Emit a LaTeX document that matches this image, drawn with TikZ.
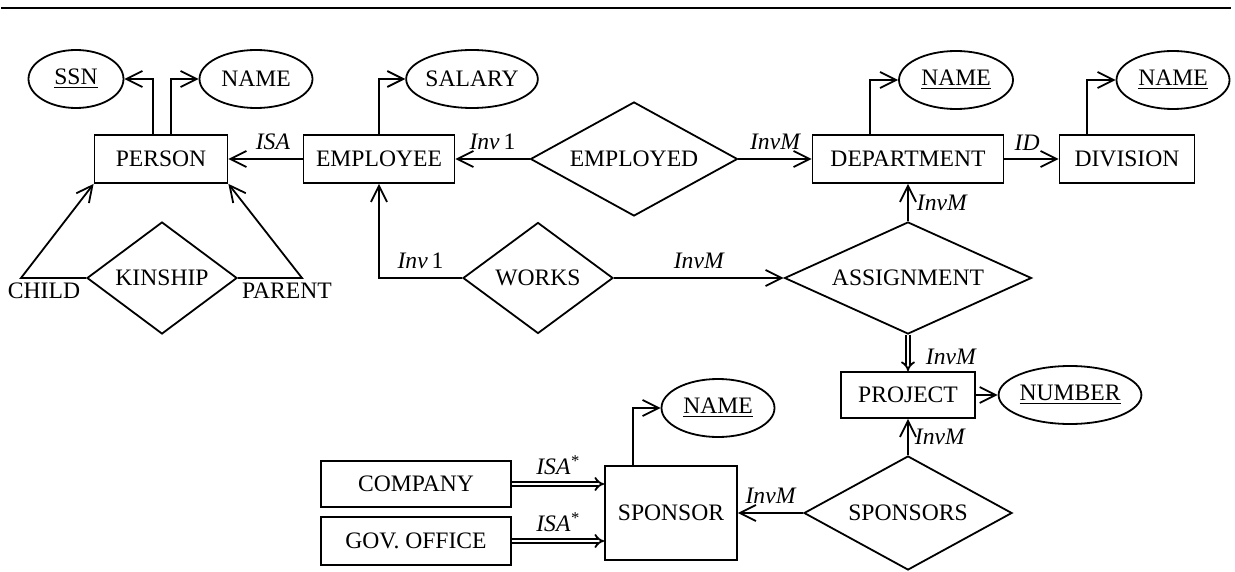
\documentclass[tikz,border=0pt]{standalone}
\usepackage{fontspec}
\setmainfont{Liberation Serif}
\usetikzlibrary{shapes.geometric,arrows.meta}
\tikzset{>={Straight Barb[length=8pt,width=8pt]}}
\tikzset{
	entity/.style={draw, rectangle, inner sep=0pt, minimum height=24pt},
	relship/.style={draw, diamond, aspect=2.2, inner sep=0pt},
	attrib/.style={draw, ellipse, inner sep=0pt, minimum height=29pt},
	lbl/.style={font=\fontsize{11.8}{13}\selectfont\itshape, inner sep=4pt},
	dbl/.style={double, double distance=1.4pt, -{Implies[length=5pt]}}
}

\begin{document}
\begin{tikzpicture}[x=0.5pt, y=-0.5pt, line width=0.9pt, every node/.style={font=\fontsize{11.8}{13}\selectfont}]
		\useasboundingbox (0, 0) rectangle (1235, 572);

		% the rule on top
		\draw (1, 8) -- (1231, 8);

		% the attributes
		\node[attrib, minimum width=47.5pt] (ssn) at (76, 79) {\underline{SSN}};
		\node[attrib, minimum width=56.5pt] (pname) at (256, 79) {NAME};
		\node[attrib, minimum width=65.5pt] (salary) at (472, 79) {SALARY};
		\node[attrib, minimum width=57pt] (dname) at (956, 80) {\underline{NAME}};
		\node[attrib, minimum width=56.5pt] (vname) at (1173, 80) {\underline{NAME}};
		\node[attrib, minimum width=67pt] (number) at (1070, 395) {\underline{NUMBER}};
		\node[attrib, minimum width=56.5pt] (sname) at (718, 408) {\underline{NAME}};

		% the entities
		\node[entity, minimum width=66.5pt] (person) at (161, 159) {PERSON};
		\node[entity, minimum width=75.5pt] (employee) at (379, 159) {EMPLOYEE};
		\node[entity, minimum width=95.5pt] (department) at (908, 159) {DEPARTMENT};
		\node[entity, minimum width=67.5pt] (division) at (1127, 159) {DIVISION};
		\node[entity, minimum width=67pt, minimum height=23pt] (project) at (908, 395) {PROJECT};
		\node[entity, minimum width=95pt, minimum height=23pt] (company) at (416, 484) {COMPANY};
		\node[entity, minimum width=95pt] (govoffice) at (416, 541) {GOV. OFFICE};
		\node[entity, minimum width=66pt, minimum height=47pt] (sponsor) at (671, 513) {SPONSOR};

		% the relationships
		\node[relship, minimum width=103.5pt, minimum height=57pt] (employed) at (634, 159) {EMPLOYED};
		\node[relship, minimum width=75pt, minimum height=56pt] (kinship) at (162, 278) {KINSHIP};
		\node[relship, minimum width=75pt, minimum height=55.5pt] (works) at (538, 278) {WORKS};
		\node[relship, minimum width=123.5pt, minimum height=56pt] (assignment) at (908, 278) {ASSIGNMENT};
		\node[relship, minimum width=104pt, minimum height=57pt] (sponsors) at (908, 513) {SPONSORS};

		% the roles of kinship
		\coordinate (childend) at (21, 278);
		\coordinate (parentend) at (302, 278);
		\node (child) at (44, 291) {CHILD};
		\node (parent) at (287, 291) {PARENT};
		\draw[->] (kinship.west) -- (childend) -- (person.south west);
		\draw[->] (kinship.east) -- (parentend) -- (person.south east);

		% the attribute links
		\draw[->] ([xshift=-4pt]person.north) |- (ssn.east);
		\draw[->] ([xshift=5pt]person.north) |- (pname.west);
		\draw[->] (employee.north) |- (salary.west);
		\draw[->] ([xshift=-19pt]department.north) |- (dname.west);
		\draw[->] ([xshift=-20pt]division.north) |- (vname.west);
		\draw[->] (project.east) -- (number.west);
		\draw[->] ([xshift=-19pt]sponsor.north) |- (sname.west);

		% the relationship links
		\draw[->] (employee.west) -- node[lbl, above, pos=0.4] {ISA} (person.east);
		\draw[->] (employed.west) -- node[lbl, above] {Inv\,\textup{1}} (employee.east);
		\draw[->] (employed.east) -- node[lbl, above] {InvM} (department.west);
		\draw[->] (department.east) -- node[lbl, above, pos=0.42] {ID} (division.west);
		\draw[->] (works.west) -| node[lbl, above, pos=0.25] {Inv\,\textup{1}} (employee.south);
		\draw[->] (works.east) -- node[lbl, above] {InvM} (assignment.west);
		\draw[->] (assignment.north) -- node[lbl, right] {InvM} (department.south);
		\draw[dbl] (assignment.south) -- node[lbl, right, xshift=4.5pt, pos=0.6] {InvM} (project.north);
		\draw[->] (sponsors.north) -- node[lbl, right, xshift=-1pt] {InvM} (project.south);
		\draw[->] (sponsors.west) -- node[lbl, above] {InvM} (sponsor.east);
		\draw[dbl] (company.east) -- node[lbl, above] {ISA\textsuperscript{*}} (company.east -| sponsor.west);
		\draw[dbl] (govoffice.east) -- node[lbl, above] {ISA\textsuperscript{*}} (govoffice.east -| sponsor.west);
	\end{tikzpicture}
\end{document}
